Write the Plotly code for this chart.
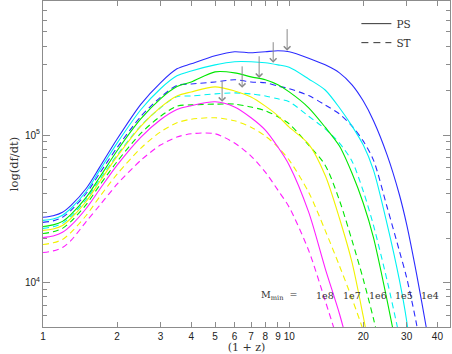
import numpy as np
import plotly.graph_objects as go

# redshift axis samples, (1 + z)
opz = [1, 1.1, 1.2, 1.3, 1.5, 1.7, 2, 2.5, 3, 3.5, 4, 5, 6, 7, 8, 9, 10,
       12, 14, 16, 18, 20, 22, 25, 28, 30, 33, 36, 40]

# df/dt, Press-Schechter (solid), one list per minimum mass
ps_1e4 = [2.77e4, 2.84e4, 3.00e4, 3.34e4, 4.36e4, 6.06e4, 9.39e4, 1.62e5, 2.26e5, 2.81e5,
          3.04e5, 3.45e5, 3.67e5, 3.61e5, 3.67e5, 3.73e5, 3.67e5, 3.32e5, 2.99e5, 2.64e5,
          2.19e5, 1.70e5, 1.25e5, 7.31e4, 3.97e4, 2.48e4, 1.12e4, 5.02e3, 1.84e3]
ps_1e5 = [2.64e4, 2.70e4, 2.86e4, 3.19e4, 4.16e4, 5.78e4, 8.82e4, 1.49e5, 2.06e5, 2.52e5,
          2.72e5, 2.99e5, 3.14e5, 3.14e5, 3.09e5, 2.99e5, 2.88e5, 2.40e5, 2.02e5, 1.53e5,
          1.15e5, 8.55e4, 5.78e4, 2.48e4, 1.05e4, 5.51e3, 1.58e3]
ps_1e6 = [2.40e4, 2.46e4, 2.60e4, 2.90e4, 3.79e4, 5.18e4, 7.83e4, 1.29e5, 1.76e5, 2.13e5,
          2.29e5, 2.68e5, 2.64e5, 2.48e5, 2.37e5, 2.19e5, 1.96e5, 1.53e5, 1.13e5, 8.42e4,
          5.51e4, 3.45e4, 2.02e4, 7.55e3, 2.95e3]
ps_1e7 = [2.26e4, 2.31e4, 2.44e4, 2.73e4, 3.56e4, 4.84e4, 7.16e4, 1.15e5, 1.54e5, 1.84e5,
          1.96e5, 2.12e5, 1.99e5, 1.81e5, 1.57e5, 1.35e5, 1.13e5, 8.69e4, 5.34e4, 2.73e4,
          1.37e4, 5.87e3, 2.52e3]
ps_1e8 = [2.02e4, 2.07e4, 2.19e4, 2.44e4, 3.19e4, 4.29e4, 6.25e4, 9.69e4, 1.27e5, 1.49e5,
          1.58e5, 1.68e5, 1.55e5, 1.31e5, 1.08e5, 8.29e4, 6.25e4, 3.00e4, 1.25e4, 6.15e3,
          2.95e3]

# df/dt, Sheth-Tormen (dashed)
st_1e4 = [2.56e4, 2.62e4, 2.77e4, 3.09e4, 4.03e4, 5.51e4, 8.22e4, 1.34e5, 1.80e5, 2.17e5,
          2.22e5, 2.29e5, 2.37e5, 2.29e5, 2.26e5, 2.15e5, 2.06e5, 1.85e5, 1.60e5, 1.39e5,
          1.15e5, 9.10e4, 6.76e4, 3.24e4, 1.65e4, 1.08e4, 5.10e3, 2.15e3]
st_1e5 = [2.33e4, 2.39e4, 2.52e4, 2.81e4, 3.67e4, 4.98e4, 7.31e4, 1.16e5, 1.53e5, 1.82e5,
          1.84e5, 1.90e5, 1.93e5, 1.90e5, 1.84e5, 1.76e5, 1.68e5, 1.34e5, 1.10e5, 8.82e4,
          6.65e4, 4.16e4, 2.44e4, 1.03e4, 4.36e3, 2.52e3]
st_1e6 = [2.15e4, 2.21e4, 2.33e4, 2.60e4, 3.39e4, 4.57e4, 6.61e4, 1.03e5, 1.34e5, 1.57e5,
          1.60e5, 1.62e5, 1.62e5, 1.55e5, 1.46e5, 1.33e5, 1.19e5, 8.55e4, 6.25e4, 3.61e4,
          1.93e4, 1.05e4, 5.69e3, 2.22e3]
st_1e7 = [1.81e4, 1.86e4, 1.96e4, 2.19e4, 2.86e4, 3.82e4, 5.43e4, 8.16e4, 1.05e5, 1.21e5,
          1.28e5, 1.31e5, 1.25e5, 1.13e5, 9.84e4, 8.29e4, 6.76e4, 4.09e4, 2.26e4, 1.30e4,
          7.78e3, 4.72e3, 2.73e3]
st_1e8 = [1.60e4, 1.64e4, 1.73e4, 1.93e4, 2.60e4, 3.34e4, 4.64e4, 6.76e4, 8.55e4, 9.69e4,
          1.02e5, 1.02e5, 8.82e4, 7.20e4, 5.60e4, 4.23e4, 3.24e4, 1.65e4, 7.55e3, 3.73e3]

masses = ["1e4", "1e5", "1e6", "1e7", "1e8"]
ps = [ps_1e4, ps_1e5, ps_1e6, ps_1e7, ps_1e8]
st = [st_1e4, st_1e5, st_1e6, st_1e7, st_1e8]
colors = ["#2b2bff", "#00f2f2", "#00e800", "#f2f200", "#ff1eff"]

# arrows marking the PS peaks
arrow_opz = [9.81, 8.61, 7.55, 6.44, 5.34]
arrow_tail = [5.35e5, 4.36e5, 3.50e5, 2.99e5, 2.37e5]
arrow_tip = [3.73e5, 3.09e5, 2.44e5, 2.09e5, 1.68e5]

serif = "DejaVu Serif"
sans = "Liberation Sans"
grey = "#8c8c8c"
txt = "#333"

fig = go.Figure()
for m, c, yp, ys in zip(masses, colors, ps, st):
    fig.add_trace(go.Scatter(x=opz[:len(yp)], y=yp, mode="lines", showlegend=False,
                             line=dict(color=c, width=1.1, shape="spline", smoothing=0.8),
                             name="PS " + m))
    fig.add_trace(go.Scatter(x=opz[:len(ys)], y=ys, mode="lines", showlegend=False,
                             line=dict(color=c, width=1.1, dash="6px,4px", shape="spline", smoothing=0.8),
                             name="ST " + m))

# legend entries
fig.add_trace(go.Scatter(x=[None], y=[None], mode="lines", name="PS",
                         line=dict(color="#333", width=1)))
fig.add_trace(go.Scatter(x=[None], y=[None], mode="lines", name="ST",
                         line=dict(color="#333", width=1, dash="7px,5px")))

for xa, yt, yh in zip(arrow_opz, arrow_tail, arrow_tip):
    fig.add_annotation(x=np.log10(xa), y=np.log10(yh), ax=np.log10(xa), ay=np.log10(yt),
                       xref="x", yref="y", axref="x", ayref="y", text="",
                       showarrow=True, arrowhead=4, arrowsize=1.3, arrowwidth=1,
                       arrowcolor="#8a8a8a", standoff=0)

fig.add_annotation(x=0.628, y=0.098, xref="paper", yref="paper", xanchor="right", yanchor="middle",
                   text="M<sub>min</sub>  =", showarrow=False,
                   font=dict(family=serif, size=9.5, color=txt))
label_x = [0.950, 0.887, 0.823, 0.759, 0.693]
for m, lx in zip(masses, label_x):
    fig.add_annotation(x=lx, y=0.098, xref="paper", yref="paper", xanchor="center",
                       yanchor="middle", text=m, showarrow=False,
                       font=dict(family=serif, size=9.5, color=txt))

xt = [1, 2, 3, 4, 5, 6, 7, 8, 9, 10, 20, 30, 40]
ymin = [6e3, 7e3, 8e3, 9e3] + [k * 1e4 for k in range(2, 10)] + [k * 1e5 for k in range(2, 9)]

fig.update_layout(
    width=452, height=354,
    margin=dict(l=43, r=2, t=1, b=27),
    paper_bgcolor="white", plot_bgcolor="white",
    font=dict(family=sans, size=10, color="#222"),
    legend=dict(x=0.77, y=0.975, xanchor="left", yanchor="top", bgcolor="rgba(0,0,0,0)",
                itemwidth=30, tracegroupgap=0, font=dict(family=serif, size=10.5, color=txt)),
    xaxis=dict(type="log", range=[0, np.log10(45)], tickvals=xt, ticktext=[str(v) for v in xt],
               ticks="inside", ticklen=5, tickcolor=grey, showline=True, linecolor=grey,
               linewidth=1, mirror="ticks", showgrid=False, zeroline=False, automargin=False,
               tickfont=dict(family=sans, size=10, color="#222"),
               title=dict(text="(1 + z)", standoff=1, font=dict(family=serif, size=11, color=txt))),
    yaxis=dict(type="log", range=[np.log10(5e3), np.log10(8.1e5)], tickvals=[1e4, 1e5],
               ticktext=["10<sup>4</sup>", "10<sup>5</sup>"],
               ticks="inside", ticklen=7, tickcolor=grey, showline=True, linecolor=grey,
               linewidth=1, mirror="ticks", showgrid=False, zeroline=False, automargin=False,
               minor=dict(tickvals=ymin, ticks="inside", ticklen=4, tickcolor=grey, showgrid=False),
               tickfont=dict(family=sans, size=10, color="#222"),
               title=dict(text="log(df/dt)", standoff=3, font=dict(family=serif, size=11.5, color=txt))),
)

fig.write_html("out.html", config={"displayModeBar": False},
               post_script="document.body.style.margin='0';")
